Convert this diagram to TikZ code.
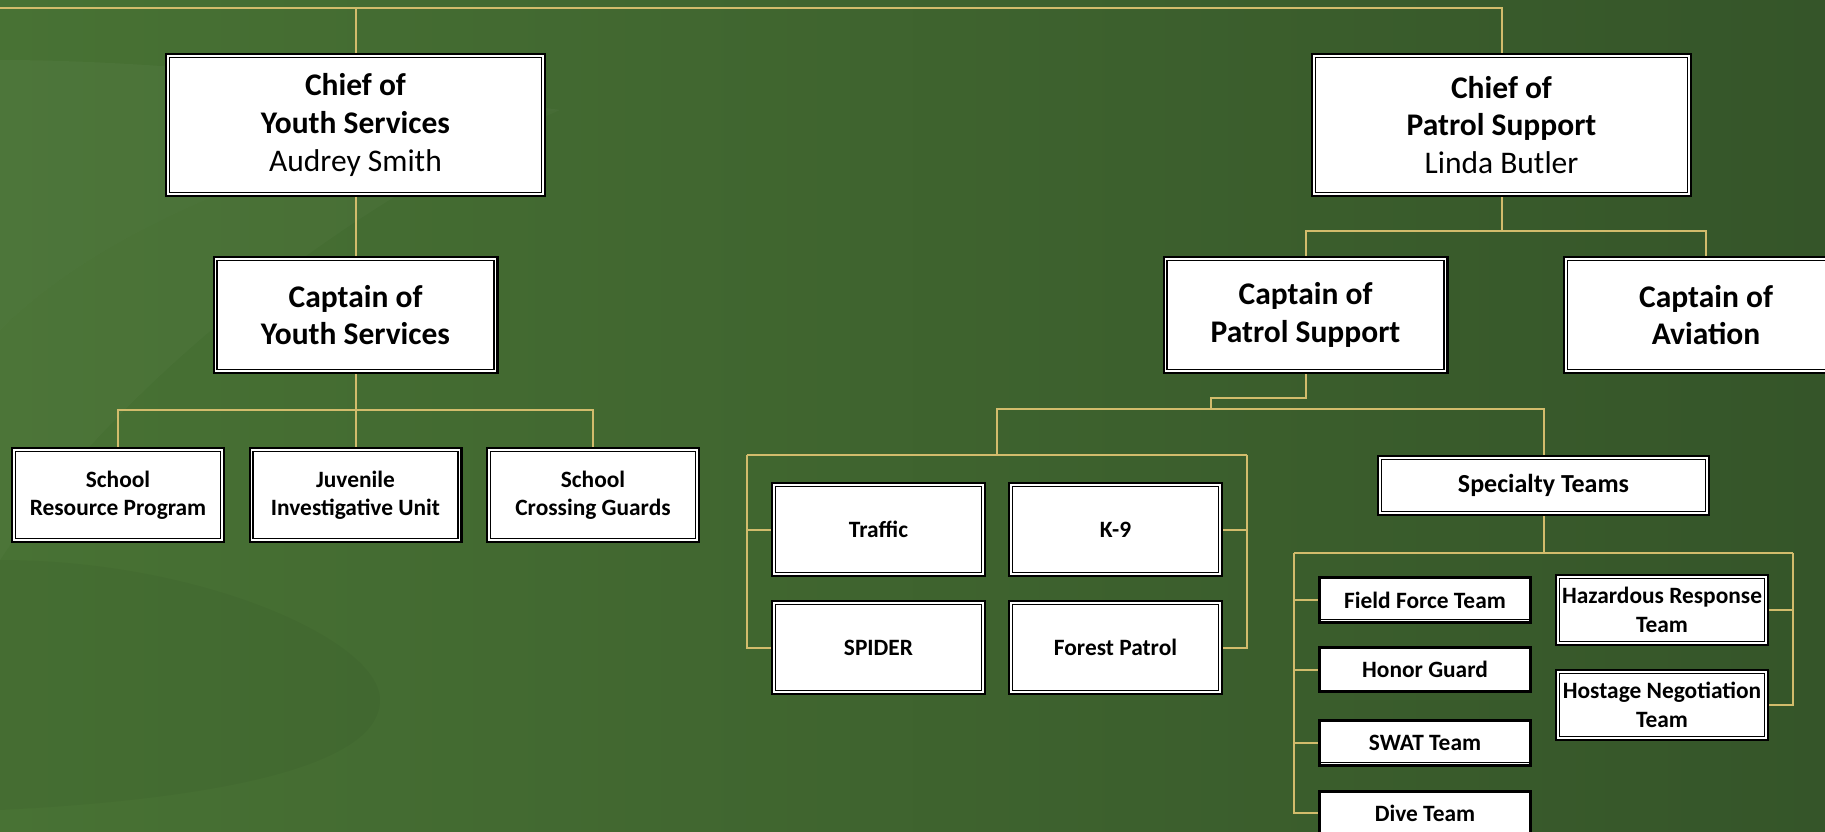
\documentclass[tikz,border=0pt]{standalone}
\usepackage{fontspec}
\setmainfont{Carlito}
\definecolor{bgL}{RGB}{72,114,52}
\definecolor{bgR}{RGB}{53,85,41}
\definecolor{linegold}{RGB}{210,188,108}
\pgfdeclarelayer{bgl}
\pgfdeclarelayer{lines}
\pgfsetlayers{bgl,lines,main}
\begin{document}
\begin{tikzpicture}[x=1pt,y=-1pt,
  conn/.style={draw=linegold, line width=2pt},
  dbox/.style={draw=black, line width=2.4pt, fill=white, inner sep=0pt, outer sep=0pt,
    align=center, text=black,
    path picture={\draw[black,line width=1.1pt]
      ([shift={(3.3pt,3.3pt)}]path picture bounding box.south west) rectangle
      ([shift={(-3.3pt,-3.3pt)}]path picture bounding box.north east);}},
  tbox/.style={draw=black, line width=3.2pt, fill=white, inner sep=0pt, outer sep=0pt,
    align=center, text=black},
  tboxb/.style={tbox,
    path picture={\draw[black,line width=1pt]
      ([yshift=3.1pt]path picture bounding box.south west) --
      ([yshift=3.1pt]path picture bounding box.south east);}},
  big/.style={font=\fontsize{31.5}{37.7}\selectfont},
  mid/.style={font=\fontsize{26}{31}\selectfont\bfseries},
  small/.style={font=\fontsize{23.4}{28.4}\selectfont\bfseries},
  sz/.style n args={2}{minimum width=#1pt, minimum height=#2pt},
]
\useasboundingbox (0,0) rectangle (1825,832);

% background with a faint swirl
\begin{pgfonlayer}{bgl}
  \shade[left color=bgL, right color=bgR] (0,0) rectangle (1825,832);
  \fill[white,opacity=0.03] (0,60) .. controls (150,60) and (350,80) .. (560,110)
     .. controls (300,140) and (100,230) .. (0,330) -- cycle;
  \fill[white,opacity=0.025] (0,330) .. controls (100,230) and (300,140) .. (560,110)
     .. controls (350,200) and (120,380) .. (0,560) -- cycle;
  \fill[black,opacity=0.035] (0,560) .. controls (200,560) and (380,640) .. (380,700)
     .. controls (380,770) and (200,800) .. (0,810) -- cycle;
\end{pgfonlayer}

\clip (0,0) rectangle (1825,832);

% chiefs and captains
\node[dbox,big,sz={378.6}{141.6}] (chiefy) at (355.5,125)
  {\textbf{Chief of}\\\textbf{Youth Services}\\Audrey Smith};
\node[dbox,big,sz={378.6}{141.6}] (chiefp) at (1501.5,125)
  {\textbf{Chief of}\\\textbf{Patrol Support}\\Linda Butler};
\node[dbox,big,sz={283.6}{115.6}] (capy) at (355.5,315)
  {\textbf{Captain of}\\\textbf{Youth Services}};
\node[dbox,big,sz={283.6}{115.6}] (capp) at (1305.5,315)
  {\textbf{Captain of}\\\textbf{Patrol Support}};
\node[dbox,big,sz={283.6}{115.6}] (capav) at (1706,315)
  {\textbf{Captain of}\\\textbf{Aviation}};

% youth services units
\node[dbox,small,sz={211.6}{93.6}] (srp) at (118,495) {School\\Resource Program};
\node[dbox,small,sz={211.6}{93.6}] (jiu) at (355.5,495) {Juvenile\\Investigative Unit};
\node[dbox,small,sz={211.6}{93.6}] (scg) at (593,495) {School\\Crossing Guards};

% patrol support units
\node[dbox,small,sz={212.6}{92.6}] (traffic) at (878.5,529.5) {Traffic};
\node[dbox,small,sz={212.6}{92.6}] (k9) at (1115.5,529.5) {K-9};
\node[dbox,small,sz={212.6}{92.6}] (spider) at (878.5,647.5) {SPIDER};
\node[dbox,small,sz={212.6}{92.6}] (forest) at (1115.5,647.5) {Forest Patrol};

% specialty teams
\node[dbox,mid,sz={330.6}{58.6}] (spec) at (1543.5,485.5) {Specialty Teams};
\node[tboxb,small,sz={210.8}{44.8}] (ff) at (1425,600) {Field Force Team};
\node[tbox,small,sz={210.8}{43.8}] (hg) at (1425,669.5) {Honor Guard};
\node[tboxb,small,sz={210.8}{44.8}] (swat) at (1425,743) {SWAT Team};
\node[tbox,small,sz={210.8}{42.8}] (dive) at (1425,813) {Dive Team};
\node[dbox,small,sz={211.6}{69.6}] (haz) at (1662,610) {Hazardous Response\\Team};
\node[dbox,small,sz={211.6}{69.6}] (host) at (1662,705) {Hostage Negotiation\\Team};

% connectors
\begin{pgfonlayer}{lines}
  \coordinate (topL) at (0,8);
  \draw[conn] (topL) -| (chiefp.north);
  \draw[conn] (chiefy.north) -- (chiefy.north |- topL);
  \draw[conn] (chiefy.south) -- (capy.north);

  \coordinate (ybus) at (355.5,410);
  \draw[conn] (capy.south) -- (jiu.north);
  \draw[conn] (srp.north) |- (ybus) -| (scg.north);

  \coordinate (pbus) at (1501.5,231);
  \draw[conn] (chiefp.south) -- (pbus);
  \draw[conn] (capp.north) |- (pbus) -| (capav.north);

  \coordinate (jogA) at (1211,398);
  \coordinate (jogB) at (1211,409);
  \coordinate (tbus) at (997,455);
  \draw[conn] (capp.south) |- (jogA) -- (jogB) -| (spec.north);
  \draw[conn] (jogB) -| (tbus);

  \coordinate (tl) at (747,455);
  \coordinate (tr) at (1247,455);
  \draw[conn] (tl) -- (tr);
  \draw[conn] (traffic.west) -| (tl);
  \draw[conn] (spider.west) -| (tl);
  \draw[conn] (k9.east) -| (tr);
  \draw[conn] (forest.east) -| (tr);

  \coordinate (sl) at (1294,553);
  \coordinate (sr) at (1793,553);
  \draw[conn] (spec.south) -- (spec.south |- sl);
  \draw[conn] (sl) -- (sr);
  \draw[conn] (ff.west) -| (sl);
  \draw[conn] (hg.west) -| (sl);
  \draw[conn] (swat.west) -| (sl);
  \draw[conn] (dive.west) -| (sl);
  \draw[conn] (haz.east) -| (sr);
  \draw[conn] (host.east) -| (sr);
\end{pgfonlayer}
\end{tikzpicture}
\end{document}
